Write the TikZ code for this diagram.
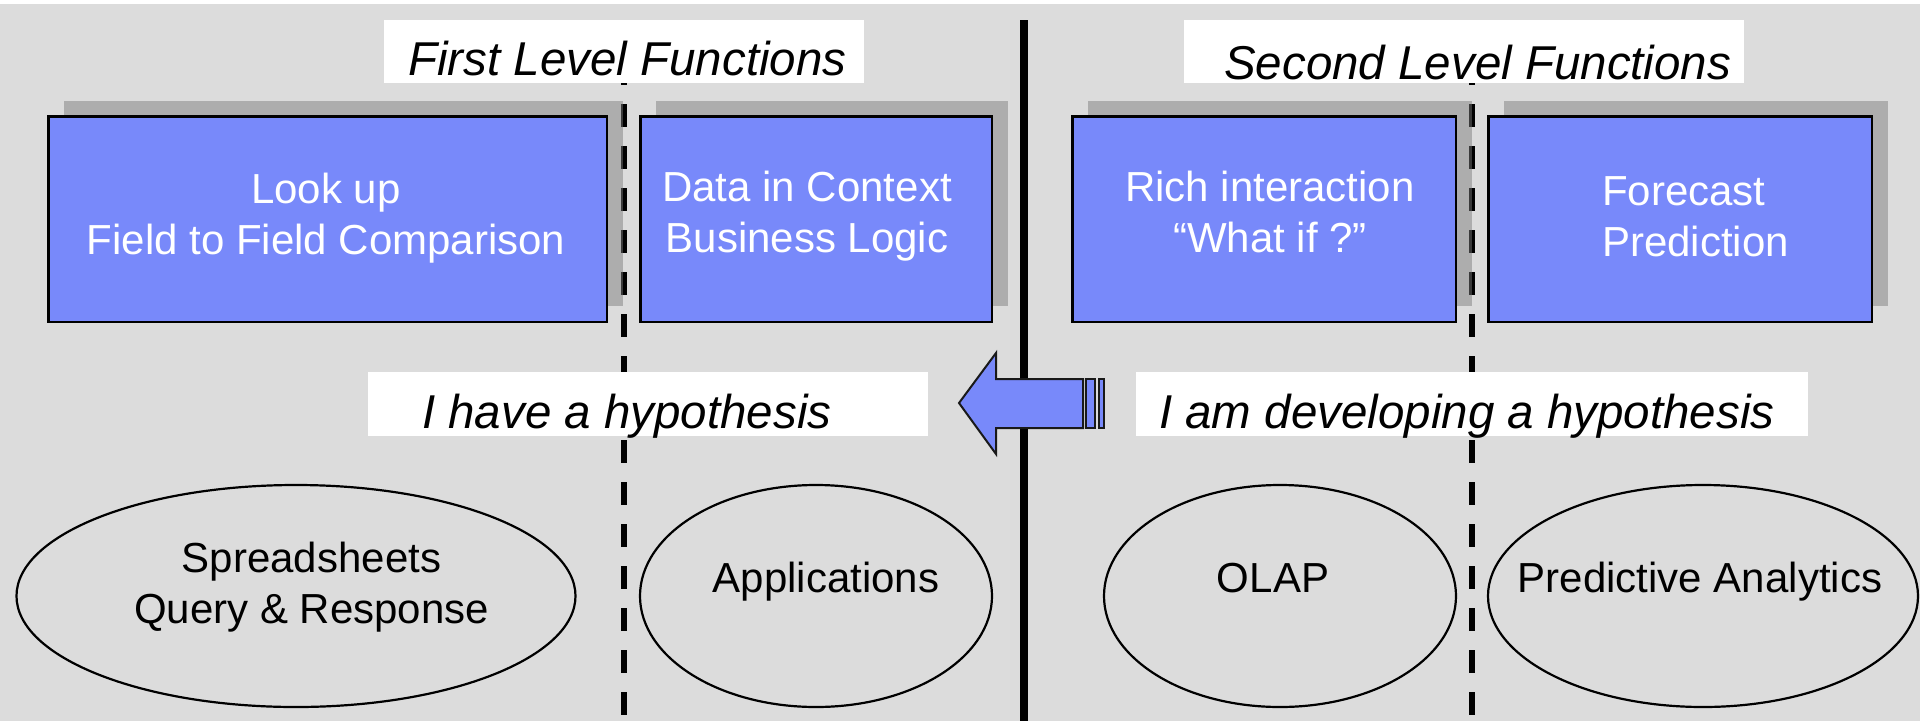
\documentclass[tikz,border=0pt]{standalone}
\usepackage{fontspec}
\setmainfont{Liberation Sans}
\usetikzlibrary{shapes.geometric,shadows}
\definecolor{panel}{RGB}{220,220,220}
\definecolor{boxblue}{RGB}{120,137,250}
\definecolor{shadowgray}{RGB}{122,122,122}
\tikzset{
  fnbox/.style={draw=black, line width=2.5pt, fill=boxblue, inner sep=0pt, outer sep=0pt,
    minimum height=205.5pt,
    drop shadow={shadow xshift=16pt, shadow yshift=15.5pt, fill=shadowgray, opacity=0.48, draw=none}},
  fntext/.style={text=white, font=\fontsize{42}{51}\selectfont, align=center, inner sep=0pt, anchor=base},
  toolell/.style={ellipse, draw=black, line width=2.2pt, inner sep=0pt, outer sep=0pt, minimum height=222pt},
  tooltext/.style={text=black, font=\fontsize{42}{51}\selectfont, align=center, inner sep=0pt, anchor=base},
  banner/.style={fill=white, draw=none, inner sep=0pt, outer sep=0pt, anchor=north west, minimum height=63pt},
  bannertext/.style={font=\fontsize{47.5}{57}\selectfont\itshape, inner sep=0pt, anchor=base west},
  divider/.style={line width=6pt, dash pattern=on 23pt off 19pt},
  blockarrow/.style={fill=boxblue, draw=black!90, line width=2pt, line join=miter},
}
\begin{document}
\begin{tikzpicture}[x=1pt, y=-1pt]
  % canvas
  \useasboundingbox (0,0) rectangle (1920,721);
  \fill[white] (0,0) rectangle (1920,4);
  \fill[panel] (0,4) rectangle (1920,721);

  % dashed dividers between the function columns
  \coordinate (d1top) at (624,62);
  \coordinate (d1bot) at (624,721);
  \coordinate (d2top) at (1472,62);
  \coordinate (d2bot) at (1472,721);
  \draw[divider] (d1top) -- (d1bot);
  \draw[divider] (d2top) -- (d2bot);

  % solid divider between first and second level
  \coordinate (midtop) at (1024,20);
  \coordinate (midbot) at (1024,721);
  \draw[line width=8pt] (midtop) -- (midbot);

  % headings
  \node[banner, minimum width=480pt] (t1box) at (384,20) {};
  \node[bannertext] (t1) at (408,75) {First Level Functions};
  \node[banner, minimum width=560pt] (t2box) at (1184,20) {};
  \node[bannertext] (t2) at (1224,79) {Second Level Functions};

  % hypothesis banners
  \node[banner, minimum width=560pt, minimum height=64pt] (h1box) at (368,372) {};
  \node[bannertext] (h1) at (422,428) {I have a hypothesis};
  \node[banner, minimum width=672pt, minimum height=64pt] (h2box) at (1136,372) {};
  \node[bannertext] (h2) at (1159,428) {I am developing a hypothesis};

  % function boxes with translucent drop shadows
  \node[fnbox, minimum width=558.5pt] (b1) at (327.5,219) {};
  \node[fnbox, minimum width=351.5pt] (b2) at (816,219) {};
  \node[fnbox, minimum width=383.5pt] (b3) at (1264,219) {};
  \node[fnbox, minimum width=383.5pt] (b4) at (1680,219) {};

  \node[fntext] (b1t) at (326,254) {Look up\\Field to Field Comparison};
  \node[fntext] (b2t) at (807,252) {Data in Context\\Business Logic};
  \node[fntext] (b3t) at (1270,252) {Rich interaction\\“What if ?”};
  \node[fntext, align=left, anchor=base west] (b4t) at (1602,256) {Forecast\\Prediction};

  % tool ellipses
  \node[toolell, minimum width=559pt] (e1) at (296,596) {};
  \node[toolell, minimum width=352pt] (e2) at (816,596) {};
  \node[toolell, minimum width=352pt] (e3) at (1280,596) {};
  \node[toolell, minimum width=430pt] (e4) at (1703,596) {};

  \node[tooltext] (e1t) at (311.5,623.3) {Spreadsheets\\Query \& Response};
  \node[tooltext] (e2t) at (826,592) {Applications};
  \node[tooltext] (e3t) at (1273,592) {OLAP};
  \node[tooltext] (e4t) at (1700,592) {Predictive Analytics};

  % striped block arrow pointing left
  \filldraw[blockarrow] (959,403) -- (996,353) -- (996,379) -- (1083,379)
    -- (1083,428) -- (996,428) -- (996,454) -- cycle;
  \filldraw[blockarrow] (1085.5,379) rectangle (1095,428);
  \filldraw[blockarrow] (1098.5,379) rectangle (1104,428);
\end{tikzpicture}
\end{document}
